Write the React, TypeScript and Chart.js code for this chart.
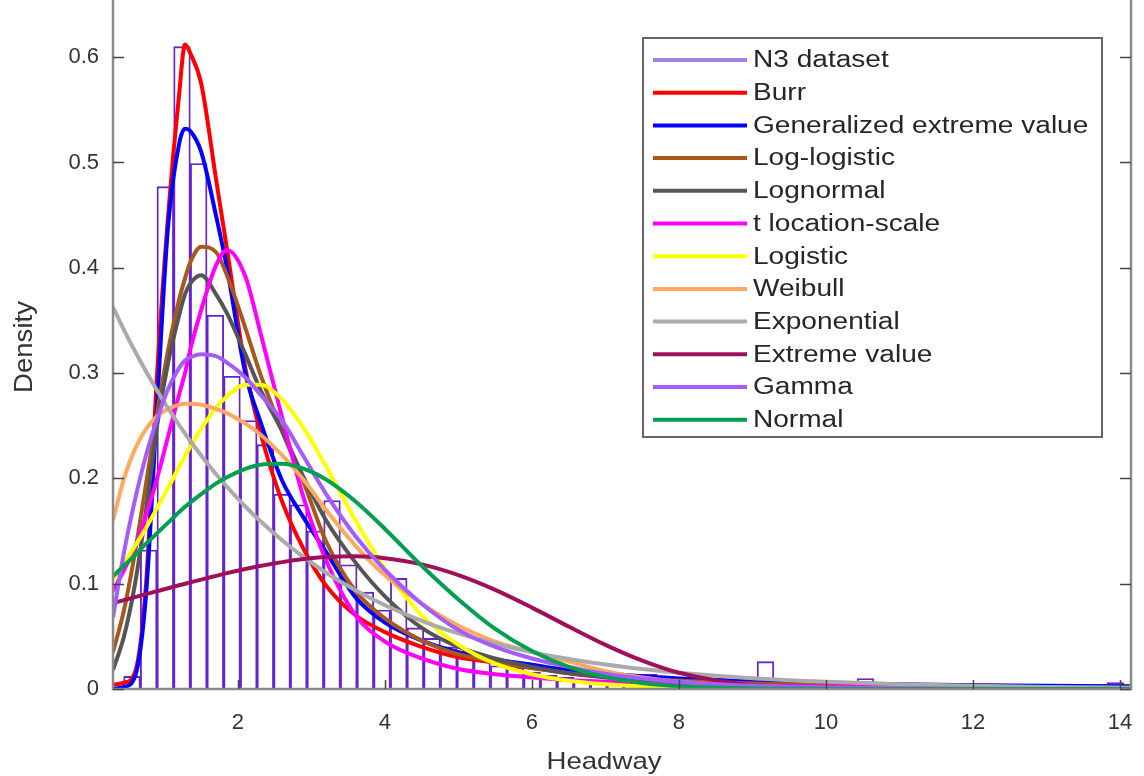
import React, { useEffect, useRef } from "react";
import { Chart, registerables } from "chart.js";

Chart.register(...registerables);

// ---------- DATA ----------
const binStart = 0.445;
const binWidth = 0.2268;
const histDensity = [
  0.012, 0.132, 0.477, 0.61, 0.499, 0.355, 0.297, 0.255, 0.232, 0.185,
  0.175, 0.15, 0.179, 0.118, 0.092, 0.075, 0.105, 0.058, 0.048, 0.04,
  0.036, 0.03, 0.022, 0.02, 0.016, 0.013, 0.011, 0.009, 0.007, 0.005,
  0.004, 0.014, 0.004, 0.003, 0.004, 0.002, 0.002, 0.002, 0.026, 0.002,
  0.008, 0.002, 0.0, 0.002, 0.01, 0.0, 0.002, 0.0, 0.002, 0.0,
  0.003, 0.003, 0.0, 0.0, 0.002, 0.0, 0.0, 0.0, 0.0, 0.006,
];

const curveX = [
  0.3, 0.45, 0.6, 0.75, 0.9, 1.05, 1.2, 1.28, 1.35, 1.5, 1.7, 1.85, 2.1, 2.3, 2.6, 2.9, 3.2,
  3.6, 4.0, 4.5, 5.0, 5.5, 6.0, 6.5, 7.0, 7.5, 8, 9, 10, 11, 12, 13, 14.14,
];

const burr = [
  0.004, 0.006, 0.016, 0.1, 0.3, 0.45, 0.565, 0.612, 0.604, 0.575, 0.485, 0.418, 0.305, 0.245, 0.178, 0.132, 0.098,
  0.07, 0.054, 0.04, 0.03, 0.025, 0.02, 0.016, 0.013, 0.011, 0.009, 0.007, 0.005, 0.004, 0.0033, 0.0027, 0.0022,
];
const gev = [
  0.0, 0.002, 0.012, 0.09, 0.27, 0.44, 0.518, 0.532, 0.53, 0.51, 0.45, 0.4, 0.3, 0.255, 0.198, 0.162, 0.13,
  0.087, 0.063, 0.046, 0.035, 0.028, 0.023, 0.018, 0.015, 0.012, 0.01, 0.0075, 0.0058, 0.0045, 0.0036, 0.003, 0.0025,
];
const logLogistic = [
  0.035, 0.075, 0.13, 0.195, 0.262, 0.322, 0.37, 0.39, 0.405, 0.42, 0.415, 0.393, 0.343, 0.3, 0.245, 0.195, 0.14,
  0.093, 0.067, 0.046, 0.033, 0.026, 0.02, 0.015, 0.012, 0.0095, 0.0078, 0.0052, 0.0037, 0.0027, 0.002, 0.0015, 0.0012,
];
const lognormal = [
  0.018, 0.05, 0.1, 0.17, 0.25, 0.31, 0.355, 0.375, 0.385, 0.393, 0.375, 0.357, 0.318, 0.285, 0.245, 0.2, 0.16,
  0.12, 0.088, 0.058, 0.04, 0.029, 0.021, 0.015, 0.011, 0.008, 0.006, 0.0035, 0.002, 0.0012, 0.0008, 0.0005, 0.0003,
];
const tLocScale = [
  0.093, 0.113, 0.135, 0.165, 0.2, 0.24, 0.28, 0.3, 0.322, 0.36, 0.402, 0.417, 0.392, 0.34, 0.258, 0.18, 0.122,
  0.07, 0.045, 0.029, 0.019, 0.014, 0.011, 0.0085, 0.0068, 0.0055, 0.0045, 0.0032, 0.0024, 0.0018, 0.0014, 0.0011, 0.0009,
];
const logistic = [
  0.104, 0.119, 0.136, 0.153, 0.172, 0.191, 0.211, 0.221, 0.23, 0.247, 0.267, 0.278, 0.289, 0.289, 0.275, 0.247, 0.211,
  0.16, 0.114, 0.07, 0.042, 0.024, 0.014, 0.0078, 0.0044, 0.0024, 0.0014, 0.0004, 0.0001, 0, 0, 0, 0,
];
const weibull = [
  0.16, 0.2, 0.228, 0.247, 0.259, 0.266, 0.27, 0.271, 0.271, 0.27, 0.266, 0.262, 0.252, 0.242, 0.222, 0.198, 0.17,
  0.136, 0.108, 0.081, 0.06, 0.045, 0.035, 0.026, 0.017, 0.011, 0.007, 0.003, 0.001, 0.0005, 0.0002, 0.0001, 0,
];
const exponential = [
  0.3625, 0.3409, 0.3206, 0.3015, 0.2835, 0.2666, 0.2507, 0.2426, 0.2357, 0.2217, 0.2042, 0.1921, 0.1733, 0.1597, 0.1412, 0.1249, 0.1104,
  0.0937, 0.0795, 0.0648, 0.0528, 0.043, 0.035, 0.0285, 0.0232, 0.0189, 0.0154, 0.0102, 0.0068, 0.0045, 0.003, 0.002, 0.0012,
];
const extremeValue = [
  0.0816, 0.0844, 0.0872, 0.0901, 0.0929, 0.0957, 0.0985, 0.1, 0.1012, 0.1039, 0.1074, 0.11, 0.1139, 0.1168, 0.1205, 0.1234, 0.1253,
  0.126, 0.1242, 0.1183, 0.1081, 0.0941, 0.0773, 0.0593, 0.0419, 0.0269, 0.0154, 0.0033, 0.0003, 0, 0, 0, 0,
];
const gamma = [
  0.068, 0.13, 0.18, 0.222, 0.256, 0.285, 0.305, 0.312, 0.315, 0.318, 0.316, 0.31, 0.296, 0.28, 0.255, 0.22, 0.185,
  0.145, 0.113, 0.081, 0.056, 0.04, 0.029, 0.021, 0.0145, 0.01, 0.0068, 0.003, 0.0013, 0.0006, 0.0002, 0.0001, 0,
];
const normal = [
  0.107, 0.117, 0.127, 0.138, 0.148, 0.158, 0.168, 0.173, 0.177, 0.185, 0.195, 0.201, 0.209, 0.213, 0.214, 0.209, 0.199,
  0.178, 0.152, 0.117, 0.085, 0.057, 0.036, 0.021, 0.0115, 0.0058, 0.0027, 0.0005, 0.0001, 0, 0, 0, 0,
];

const seriesLabels = [
  "N3 dataset", "Burr", "Generalized extreme value", "Log-logistic", "Lognormal",
  "t location-scale", "Logistic", "Weibull", "Exponential", "Extreme value", "Gamma", "Normal",
];
const seriesColors = [
  "#a47fe0", "#ff0000", "#0000ff", "#a8581c", "#555555",
  "#ff00ff", "#ffff00", "#ffa860", "#aaaaaa", "#a0105a", "#a45cff", "#00a050",
];
const curveValues = [burr, gev, logLogistic, lognormal, tLocScale, logistic, weibull, exponential, extremeValue, gamma, normal];

const xTicks = [2, 4, 6, 8, 10, 12, 14];
const yTicks = [0, 0.1, 0.2, 0.3, 0.4, 0.5, 0.6];
const xTitle = "Headway";
const yTitle = "Density";
const xMin = 0.3;
const xMax = 14.15;
const yMax = 0.6543;

// ---------- PLUGINS ----------
const FONT = '"Liberation Sans", Arial, Helvetica, sans-serif';

const framePlugin = {
  id: "frame",
  afterDatasetsDraw(chart: any) {
    const { ctx, chartArea } = chart;
    const { left, right, top, bottom } = chartArea;
    const xs = chart.scales.x;
    const ys = chart.scales.y;
    ctx.save();
    ctx.strokeStyle = "#8a8a8a";
    ctx.lineWidth = 2.5;
    ctx.beginPath();
    ctx.moveTo(left, top);
    ctx.lineTo(left, bottom);
    ctx.lineTo(right, bottom);
    ctx.lineTo(right, top);
    ctx.stroke();
    ctx.strokeStyle = "#444";
    ctx.lineWidth = 1.5;
    ctx.beginPath();
    xTicks.forEach((v) => {
      const px = Math.round(xs.getPixelForValue(v)) + 0.5;
      ctx.moveTo(px, bottom);
      ctx.lineTo(px, bottom - 9);
    });
    yTicks.forEach((v) => {
      const py = Math.round(ys.getPixelForValue(v)) + 0.5;
      ctx.moveTo(left, py);
      ctx.lineTo(left + 11, py);
      ctx.moveTo(right, py);
      ctx.lineTo(right - 11, py);
    });
    ctx.stroke();
    ctx.restore();
  },
};

const titlesPlugin = {
  id: "axisTitles",
  afterDraw(chart: any) {
    const ctx = chart.ctx;
    ctx.save();
    ctx.fillStyle = "#333";
    ctx.font = `24px ${FONT}`;
    ctx.textAlign = "center";
    ctx.textBaseline = "middle";
    ctx.save();
    ctx.translate(604, 762);
    ctx.scale(1.15, 1);
    ctx.fillText(xTitle, 0, 0);
    ctx.restore();
    ctx.save();
    ctx.translate(25, 347);
    ctx.rotate(-Math.PI / 2);
    ctx.scale(1.15, 1.1);
    ctx.fillText(yTitle, 0, 0);
    ctx.restore();
    ctx.restore();
  },
};

const legendPlugin = {
  id: "boxLegend",
  afterDraw(chart: any) {
    const ctx = chart.ctx;
    const bx = 643, by = 38, bw = 459, bh = 399;
    ctx.save();
    ctx.fillStyle = "#ffffff";
    ctx.fillRect(bx, by, bw, bh);
    ctx.strokeStyle = "#666";
    ctx.lineWidth = 2;
    ctx.strokeRect(bx, by, bw, bh);
    const ds = chart.data.datasets;
    ds.forEach((d: any, i: number) => {
      const y = 60 + i * 32.7;
      ctx.strokeStyle = d.legendColor || d.borderColor;
      ctx.lineWidth = 4;
      ctx.beginPath();
      ctx.moveTo(653, y);
      ctx.lineTo(747, y);
      ctx.stroke();
      ctx.save();
      ctx.translate(753, y + 1);
      ctx.scale(1.22, 1);
      ctx.fillStyle = "#262626";
      ctx.font = `23px ${FONT}`;
      ctx.textBaseline = "middle";
      ctx.fillText(d.label, 0, 0);
      ctx.restore();
    });
    ctx.restore();
  },
};

export default function App() {
  const ref = useRef<HTMLCanvasElement | null>(null);

  useEffect(() => {
    const canvas = ref.current;
    if (!canvas) return;

    const histData = histDensity.map((v, i) => ({ x: binStart + (i + 0.5) * binWidth, y: v }));

    const datasets: any[] = [
      {
        type: "bar",
        label: seriesLabels[0],
        data: histData,
        backgroundColor: "rgba(255,255,255,0)",
        borderColor: "#6522d2",
        legendColor: seriesColors[0],
        borderWidth: 1.2,
        barPercentage: 1,
        categoryPercentage: 1,
        order: 100,
      },
    ];
    curveValues.forEach((vals, k) => {
      datasets.push({
        type: "line",
        label: seriesLabels[k + 1],
        data: curveX.map((x, i) => ({ x, y: vals[i] })),
        borderColor: seriesColors[k + 1],
        backgroundColor: seriesColors[k + 1],
        borderWidth: 4,
        pointRadius: 0,
        fill: false,
        cubicInterpolationMode: "monotone",
        order: 11 - k,
      });
    });

    const chart = new Chart(canvas, {
      type: "bar",
      data: { datasets },
      options: {
        responsive: false,
        animation: false,
        devicePixelRatio: 1,
        layout: { padding: { left: 0, right: 13, top: 0, bottom: 0 } },
        plugins: {
          legend: { display: false },
          tooltip: { enabled: false },
        },
        scales: {
          x: {
            type: "linear",
            min: xMin,
            max: xMax,
            offset: false,
            grid: { display: false, drawTicks: false },
            border: { display: false },
            afterBuildTicks: (s: any) => {
              s.ticks = xTicks.map((v) => ({ value: v }));
            },
            afterFit: (s: any) => {
              s.height = 87;
              s.paddingLeft = 0;
              s.paddingRight = 0;
            },
            ticks: {
              color: "#333",
              font: { family: FONT, size: 22 },
              padding: 21,
              maxRotation: 0,
              autoSkip: false,
            },
          },
          y: {
            type: "linear",
            min: 0,
            max: yMax,
            grid: { display: false, drawTicks: false },
            border: { display: false },
            afterBuildTicks: (s: any) => {
              s.ticks = yTicks.map((v) => ({ value: v }));
            },
            afterFit: (s: any) => {
              s.width = 113;
              s.paddingTop = 0;
              s.paddingBottom = 0;
            },
            ticks: {
              color: "#333",
              font: { family: FONT, size: 22 },
              padding: 14,
              callback: (v: any) => String(Math.round(v * 10) / 10),
            },
          },
        },
      },
      plugins: [framePlugin, titlesPlugin, legendPlugin],
    });

    return () => chart.destroy();
  }, []);

  return (
    <div style={{ position: "fixed", left: 0, top: 0, width: 1144, height: 776, background: "#fff" }}>
      <canvas ref={ref} width={1144} height={776} />
    </div>
  );
}
